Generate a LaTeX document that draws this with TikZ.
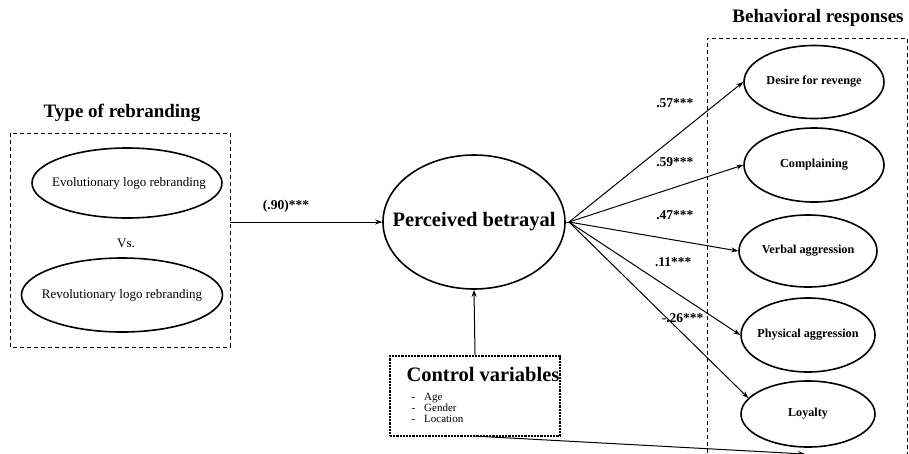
\documentclass[tikz,border=0pt]{standalone}
\usepackage{fontspec}
\setmainfont{Liberation Serif}
\usetikzlibrary{shapes.geometric,arrows.meta}
\begin{document}
\begin{tikzpicture}[x=1pt,y=1pt,
  oval/.style={draw,ellipse,line width=1.6pt,inner sep=0pt},
  conn/.style={line width=1pt,-{Stealth[length=7pt,width=5pt]}},
  grp/.style={draw,dashed,line width=1pt,dash pattern=on 4pt off 3pt},
  ttl/.style={font=\bfseries\fontsize{19}{21}\selectfont},
  rlab/.style={font=\bfseries\fontsize{12.2}{14}\selectfont},
  coef/.style={font=\bfseries\fontsize{13.5}{15}\selectfont,anchor=east}]
\useasboundingbox (0,0) rectangle (909,-453);
% left group
\node[ttl] (tt) at (122,-113) {Type of rebranding};
\draw[grp] (10,-133) rectangle (230,-347);
\coordinate (lbox) at (230,-222);
\node[oval,minimum width=190,minimum height=70] (evo) at (127,-183) {};
\node[font=\fontsize{13}{15}\selectfont] (evot) at (129,-183) {Evolutionary logo rebranding};
\node[font=\fontsize{13}{15}\selectfont] (vs) at (126,-243) {Vs.};
\node[oval,minimum width=201,minimum height=74] (rev) at (122,-295) {};
\node[font=\fontsize{13}{15}\selectfont] (revt) at (122,-295) {Revolutionary logo rebranding};
% center
\node[oval,minimum width=182,minimum height=134] (pb) at (474,-222) {};
\node[font=\bfseries\fontsize{20.5}{22}\selectfont] (pbt) at (474,-222) {Perceived betrayal};
\draw[conn] (lbox) -- (pb.west);
\node[font=\bfseries\fontsize{13.5}{15}\selectfont] (l90) at (286,-206) {(.90)***};
% control
\node[draw,densely dotted,line width=2.2pt,minimum width=170,minimum height=80,inner sep=0pt] (ctrl) at (475,-396) {};
\node[font=\bfseries\fontsize{20.5}{22}\selectfont,anchor=west] (ctt) at (403,-374) {Control variables};
\node[font=\fontsize{11}{12}\selectfont,anchor=west,align=left] (cl) at (408,-408) {-\hspace{9pt}Age\\[-1pt]-\hspace{9pt}Gender\\[-1pt]-\hspace{9pt}Location};
\draw[conn] (ctrl.north) -- (pb.south);
% right group
\node[font=\bfseries\fontsize{19}{21}\selectfont] (bt) at (818,-18) {Behavioral responses};
\draw[grp] (707,-460) -- (707,-38) -- (907,-38) -- (907,-460);
\node[oval,minimum width=140,minimum height=73] (dr) at (814,-82) {};
\node[rlab] (drt) at (814,-82) {Desire for revenge};
\node[oval,minimum width=140,minimum height=74] (co) at (814,-165) {};
\node[rlab] (cot) at (814,-165) {Complaining};
\node[oval,minimum width=138,minimum height=72] (va) at (808,-251) {};
\node[rlab] (vat) at (808,-251) {Verbal aggression};
\node[oval,minimum width=134,minimum height=74] (pa) at (808,-335) {};
\node[rlab] (pat) at (808,-335) {Physical aggression};
\node[oval,minimum width=134,minimum height=66] (lo) at (808,-414) {};
\node[rlab] (lot) at (808,-414) {Loyalty};
\coordinate (hub) at (569,-222);
\draw[line width=1pt] (pb.east) -- (hub);
\draw[conn] (hub) -- (dr.west);
\draw[conn] (hub) -- (co.west);
\draw[conn] (hub) -- (va.west);
\draw[conn] (hub) -- (pa.west);
\draw[conn] (hub) -- (lo.165);
\node[coef] (c1) at (697,-103) {.57***};
\node[coef] (c2) at (697,-162) {.59***};
\node[coef] (c3) at (697,-215) {.47***};
\node[coef] (c4) at (695,-262) {.11***};
\node[coef] (c5) at (707,-318) {-.26***};
% line to bottom
\coordinate (bend) at (805,-454);
\draw[conn] (473,-436) -- (bend);
\end{tikzpicture}
\end{document}
